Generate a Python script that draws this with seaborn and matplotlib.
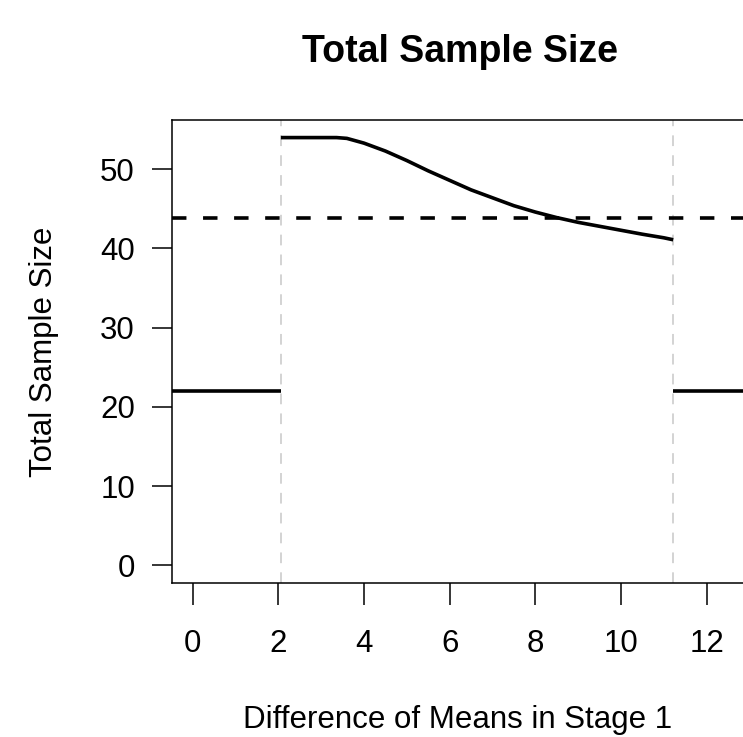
import numpy as np
import pandas as pd
import matplotlib
matplotlib.use("Agg")
import matplotlib.pyplot as plt
import seaborn as sns

# Stage 1 boundaries (futility / efficacy) and reference design size
futility_bound = 2.06
efficacy_bound = 11.22
fixed_n = 43.8
stop_n = 22

# Total sample size when continuing to stage 2
cont_x = [2.06, 3.36, 3.6, 4.0, 4.5, 5.0, 5.5, 6.0, 6.5, 7.0, 7.5, 8.0,
          8.5, 9.0, 9.5, 10.0, 10.5, 11.0, 11.22]
cont_y = [54.0, 54.0, 53.9, 53.3, 52.3, 51.1, 49.8, 48.6, 47.4, 46.4, 45.4,
          44.6, 43.9, 43.3, 42.8, 42.3, 41.8, 41.35, 41.1]

# early stopping segments
stop_left_x = [-1.0, 2.06]
stop_right_x = [11.22, 14.0]

xticks = [0, 2, 4, 6, 8, 10, 12]
yticks = [0, 10, 20, 30, 40, 50]

sns.set_style("white")
plt.rcParams['font.family'] = ['Liberation Sans', 'DejaVu Sans']
plt.rcParams['text.color'] = 'black'
plt.rcParams['lines.solid_capstyle'] = 'butt'

W, H = 743, 737
fig = plt.figure(figsize=(W / 100, H / 100), dpi=100)
left, right, top, bottom = 171.7, 743, 120, 583
ax = fig.add_axes([left / W, 1 - bottom / H, (right - left) / W, (bottom - top) / H])

df_cont = pd.DataFrame({'x': cont_x, 'y': cont_y})
df_left = pd.DataFrame({'x': stop_left_x, 'y': [stop_n] * 2})
df_right = pd.DataFrame({'x': stop_right_x, 'y': [stop_n] * 2})

for d in (df_cont, df_left, df_right):
    sns.lineplot(data=d, x='x', y='y', ax=ax, color='black', lw=2.6,
                 estimator=None, sort=False)

ax.axhline(fixed_n, color='black', lw=2.6, dashes=(4.0, 4.6))
for b in (futility_bound, efficacy_bound):
    ax.axvline(b, color='#c8c8c8', lw=1.1, dashes=(7.0, 6.0), zorder=0)

ax.set_xlim(-0.49, 12.85)
ax.set_ylim(-2.235, 56.22)
ax.set_xticks(xticks)
ax.set_yticks(yticks)
ax.set_xlabel('')
ax.set_ylabel('')
ax.tick_params(axis='x', direction='out', length=16, width=1.1, pad=17,
               labelsize=22.5, bottom=True, colors='black')
ax.tick_params(axis='y', direction='out', length=14.5, width=1.1, pad=12,
               labelsize=22.5, left=True, colors='black')
for s in ('left', 'bottom', 'top'):
    ax.spines[s].set_color('black')
    ax.spines[s].set_linewidth(1.1)
ax.spines['right'].set_visible(False)

fig.text(460 / W, 1 - 62 / H, 'Total Sample Size', ha='center', va='baseline',
         fontsize=27, fontweight='bold', color='black')
fig.text(458 / W, 1 - 728 / H, 'Difference of Means in Stage 1', ha='center',
         va='baseline', fontsize=22.5, color='black')
fig.text(52 / W, 1 - 351.5 / H, 'Total Sample Size', ha='center', va='baseline',
         rotation=90, rotation_mode='anchor', fontsize=22.5, color='black')

fig.savefig('out.png', dpi=100)
